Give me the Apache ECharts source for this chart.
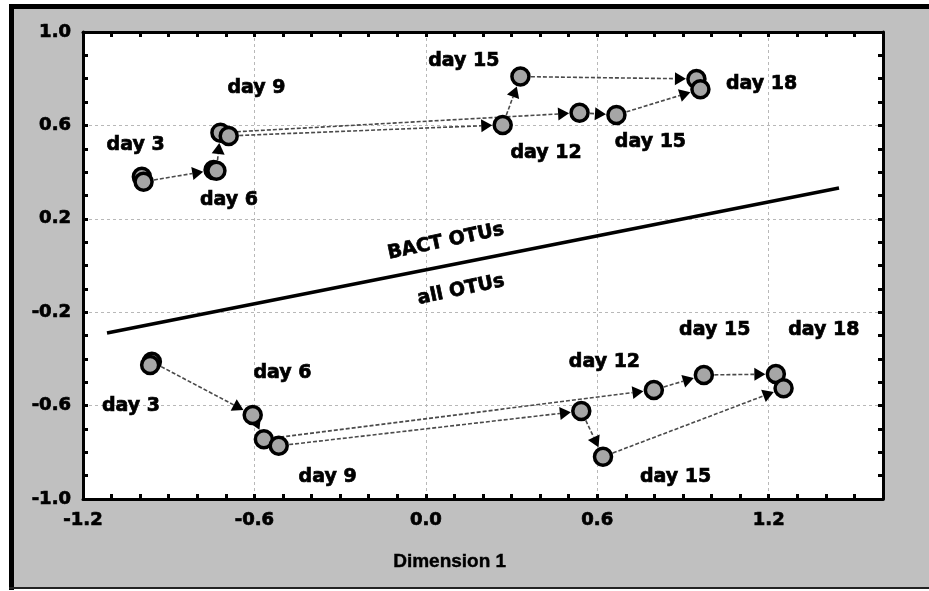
<!DOCTYPE html>
<html>
<head>
<meta charset="utf-8">
<script src="https://cdn.jsdelivr.net/npm/echarts@6/dist/echarts.min.js"></script>
<style>
  html, body { margin: 0; padding: 0; background: #fff; }
  #chart { width: 929px; height: 591px; }
</style>
</head>
<body>
<div id="chart"></div>
<script>
// axis setup
const xMin = -1.2, xMax = 1.6, xStep = 0.6;
const yMin = -1.0, yMax = 1.0, yStep = 0.4;
const minorStep = 0.1;

// BACT OTUs trajectory (upper group)
const bactX = [-0.994, -0.988, -0.743, -0.733, -0.719, -0.690, 0.269, 0.538, 0.331, 0.667, 0.947, 0.961];
const bactY = [0.380, 0.359, 0.409, 0.406, 0.569, 0.555, 0.602, 0.654, 0.809, 0.645, 0.799, 0.755];
const bactLinks = [[1, 2], [3, 4], [4, 7], [5, 6], [6, 8], [8, 10], [7, 9], [9, 11]];

// all OTUs trajectory (lower group)
const allX = [-0.959, -0.965, -0.606, -0.567, -0.515, 0.544, 0.798, 0.620, 0.973, 1.225, 1.252];
const allY = [-0.412, -0.426, -0.640, -0.744, -0.772, -0.623, -0.533, -0.819, -0.469, -0.465, -0.526];
const allLinks = [[0, 2], [2, 3], [3, 6], [4, 5], [5, 7], [7, 10], [6, 8], [8, 9]];

// day annotations
const dayText = ['day 3', 'day 6', 'day 9', 'day 15', 'day 12', 'day 15', 'day 18',
                 'day 3', 'day 6', 'day 9', 'day 12', 'day 15', 'day 18', 'day 15'];
const dayX = [-1.016, -0.689, -0.593, 0.133, 0.421, 0.786, 1.175,
              -1.032, -0.502, -0.344, 0.625, 1.011, 1.393, 0.874];
const dayY = [0.516, 0.281, 0.760, 0.876, 0.482, 0.529, 0.777,
              -0.602, -0.460, -0.906, -0.413, -0.276, -0.276, -0.906];

// separating line and its two labels
const dividerX = [-1.116, 1.446];
const dividerY = [-0.289, 0.332];
const groupText = ['BACT OTUs', 'all OTUs'];
const groupX = [0.070, 0.123];
const groupY = [0.102, -0.105];

const FONT = '"DejaVu Sans", sans-serif';
const boldText = { color: '#000', fontFamily: FONT, fontWeight: 'bold',
                   textBorderColor: '#000', textBorderWidth: 0.7 };

function pts(xs, ys) {
  return xs.map((x, i) => [x, ys[i]]);
}
function segs(xs, ys, links) {
  return links.map(l => [xs[l[0]], ys[l[0]], xs[l[1]], ys[l[1]]]);
}

function arrowItem(params, api) {
  const p1 = api.coord([api.value(0), api.value(1)]);
  const p2 = api.coord([api.value(2), api.value(3)]);
  const dx = p2[0] - p1[0], dy = p2[1] - p1[1];
  const len = Math.sqrt(dx * dx + dy * dy) || 1;
  const ux = dx / len, uy = dy / len;
  const r = 10.5, head = 11, half = 6.5;
  const sx = p1[0] + ux * r, sy = p1[1] + uy * r;
  const tx = p2[0] - ux * r, ty = p2[1] - uy * r;
  const bx = tx - ux * head, by = ty - uy * head;
  return {
    type: 'group',
    children: [
      { type: 'line', shape: { x1: sx, y1: sy, x2: bx, y2: by },
        style: { stroke: '#4a4a4a', lineWidth: 1.6, lineDash: [4, 2] } },
      { type: 'polygon',
        shape: { points: [[tx, ty], [bx - uy * half, by + ux * half], [bx + uy * half, by - ux * half]] },
        style: { fill: '#000' } }
    ]
  };
}

const tickAxis = (pos, min, max, line) => ({
  type: 'value', position: pos, min: min, max: max, interval: minorStep,
  axisLine: { show: line, onZero: false, lineStyle: { color: '#000', width: 3 } },
  axisTick: { show: true, inside: true, length: 5, lineStyle: { color: '#000', width: 3 } },
  axisLabel: { show: false }, splitLine: { show: false }
});

const chart = echarts.init(document.getElementById('chart'));

chart.setOption({
  backgroundColor: '#fff',
  animation: false,
  graphic: [
    { type: 'rect', shape: { x: 9, y: 4, width: 920, height: 585 }, style: { fill: '#c0c0c0' }, z: -10 },
    { type: 'rect', shape: { x: 9, y: 4, width: 920, height: 5 }, style: { fill: '#000' }, z: -9 },
    { type: 'rect', shape: { x: 9, y: 4, width: 5, height: 586 }, style: { fill: '#000' }, z: -9 },
    { type: 'rect', shape: { x: 9, y: 587, width: 920, height: 2 }, style: { fill: '#222' }, z: -9 },
    { type: 'rect', shape: { x: 83, y: 32, width: 800, height: 467 }, style: { fill: '#fff' }, z: -8 },
    { type: 'text', left: 393, top: 552, z: 10,
      style: { text: 'Dimension 1', font: 'bold 19px "Liberation Sans", Arial, sans-serif', fill: '#000',
               stroke: '#000', lineWidth: 0.4 } }
  ],
  grid: { left: 83, top: 32, right: 46, bottom: 92 },
  xAxis: [
    {
      type: 'value', min: xMin, max: xMax, interval: xStep,
      axisLine: { onZero: false, lineStyle: { color: '#000', width: 3 } },
      axisTick: { show: false },
      axisLabel: Object.assign({}, boldText, { fontSize: 18, margin: 12, showMaxLabel: false,
                   formatter: v => v.toFixed(1) }),
      splitLine: { show: true, lineStyle: { color: '#b8b8b8', type: [3, 3], width: 1 } }
    },
    tickAxis('bottom', xMin, xMax, false),
    tickAxis('top', xMin, xMax, true)
  ],
  yAxis: [
    {
      type: 'value', min: yMin, max: yMax, interval: yStep,
      axisLine: { show: true, onZero: false, lineStyle: { color: '#000', width: 3 } },
      axisTick: { show: false },
      axisLabel: Object.assign({}, boldText, { fontSize: 18, margin: 12,
                   formatter: v => v.toFixed(1) }),
      splitLine: { show: true, lineStyle: { color: '#b8b8b8', type: [3, 3], width: 1 } }
    },
    tickAxis('left', yMin, yMax, false),
    tickAxis('right', yMin, yMax, true)
  ],
  series: [
    {
      type: 'line', data: pts(dividerX, dividerY), symbol: 'none', silent: true,
      lineStyle: { color: '#000', width: 3.5 }, z: 2
    },
    {
      type: 'custom', renderItem: arrowItem, data: segs(bactX, bactY, bactLinks),
      encode: { x: [0, 2], y: [1, 3] }, z: 3
    },
    {
      type: 'custom', renderItem: arrowItem, data: segs(allX, allY, allLinks),
      encode: { x: [0, 2], y: [1, 3] }, z: 3
    },
    {
      type: 'scatter', data: pts(bactX, bactY), symbolSize: 17, z: 4,
      itemStyle: { color: '#a6a6a6', borderColor: '#000', borderWidth: 3.5, opacity: 1 }
    },
    {
      type: 'scatter', data: pts(allX, allY), symbolSize: 17, z: 4,
      itemStyle: { color: '#a6a6a6', borderColor: '#000', borderWidth: 3.5, opacity: 1 }
    },
    {
      type: 'scatter', symbolSize: 0, z: 5, silent: true, itemStyle: { opacity: 1 },
      data: dayText.map((t, i) => ({ name: t, value: [dayX[i], dayY[i]] })),
      label: Object.assign({ show: true, position: 'inside', formatter: '{b}', fontSize: 19 }, boldText)
    },
    {
      type: 'scatter', symbolSize: 0, z: 5, silent: true, itemStyle: { opacity: 1 },
      data: groupText.map((t, i) => ({ name: t, value: [groupX[i], groupY[i]] })),
      label: Object.assign({ show: true, position: 'inside', formatter: '{b}', rotate: 12, fontSize: 19 }, boldText)
    }
  ]
});
</script>
</body>
</html>
